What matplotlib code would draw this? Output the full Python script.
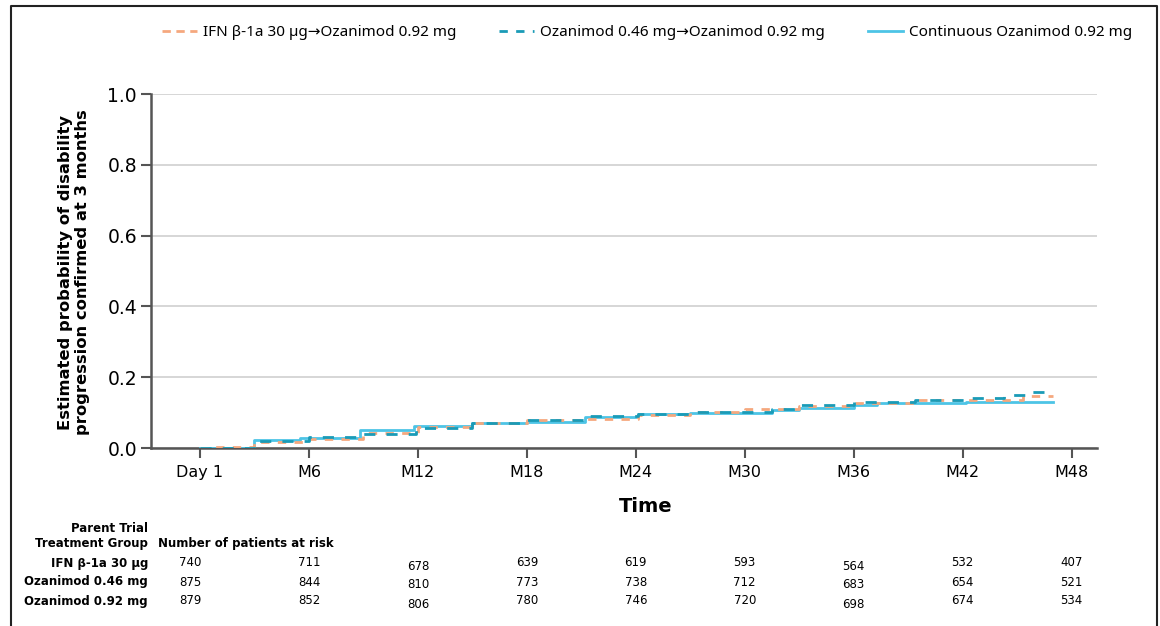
import numpy as np
import pandas as pd
import matplotlib
matplotlib.use("Agg")
import matplotlib.pyplot as plt
import matplotlib.transforms as mtransforms
from matplotlib.lines import Line2D

plt.rcParams['font.family'] = ['DejaVu Sans']

# step curves (months since day 1, cumulative probability)
ifn_t = [0, 0.8, 3, 6, 9, 12, 15, 18, 21.2, 24.1, 27, 30, 33, 36, 39.4, 45.3, 47]
ifn_v = [0, 0.004, 0.018, 0.025, 0.042, 0.058, 0.071, 0.080, 0.082, 0.094, 0.102,
         0.109, 0.119, 0.127, 0.136, 0.148, 0.148]

oz46_t = [0, 3, 6, 9, 11.9, 15, 18, 21.2, 24.1, 27, 31.5, 33, 36, 39.4, 42.2, 44.3, 45.6, 47]
oz46_v = [0, 0.020, 0.032, 0.040, 0.056, 0.070, 0.080, 0.089, 0.095, 0.102, 0.109,
          0.121, 0.131, 0.137, 0.140, 0.150, 0.159, 0.159]

oz92_t = [0, 3, 5.5, 8.8, 11.8, 15, 18, 21.2, 24.1, 27, 31.5, 33, 36, 37.3, 42.2, 47]
oz92_v = [0, 0.022, 0.029, 0.050, 0.062, 0.070, 0.074, 0.088, 0.095, 0.100, 0.107,
          0.114, 0.122, 0.126, 0.129, 0.129]

tick_months = [0, 6, 12, 18, 24, 30, 36, 42, 48]
tick_labels = ['Day 1', 'M6', 'M12', 'M18', 'M24', 'M30', 'M36', 'M42', 'M48']

group_names = ['IFN β-1a 30 µg', 'Ozanimod 0.46 mg', 'Ozanimod 0.92 mg']
risk_ifn = [740, 711, 678, 639, 619, 593, 564, 532, 407]
risk_oz46 = [875, 844, 810, 773, 738, 712, 683, 654, 521]
risk_oz92 = [879, 852, 806, 780, 746, 720, 698, 674, 534]

legend_labels = ['IFN β-1a 30 µg→Ozanimod 0.92 mg',
                 'Ozanimod 0.46 mg→Ozanimod 0.92 mg',
                 'Continuous Ozanimod 0.92 mg']

c_ifn = '#F5A87E'
c_46 = '#1A9BB7'
c_92 = '#4DC4E6'
narrow = ['Noto Sans', 'DejaVu Sans']

W, H = 1160, 626
fig = plt.figure(figsize=(W / 100, H / 100), dpi=100)
ax = fig.add_axes([151 / W, 1 - 448 / H, (1097 - 151) / W, (448 - 94) / H])

ax.step(oz92_t, oz92_v, where='post', color=c_92, lw=2.0, zorder=3)
ax.step(ifn_t, ifn_v, where='post', color=c_ifn, lw=2.0, dashes=(3, 3), zorder=4)
ax.step(oz46_t, oz46_v, where='post', color=c_46, lw=2.0, dashes=(4, 4), zorder=5)

ax.set_xlim(-2.7, 49.4)
ax.set_ylim(0, 1.0)
ax.set_xticks(tick_months)
ax.set_xticklabels(tick_labels)
ax.set_yticks(np.arange(0, 1.01, 0.2))
ax.set_yticklabels(['%.1f' % v for v in np.arange(0, 1.01, 0.2)])
ax.tick_params(axis='x', length=7, width=1.5, color='#555555', labelsize=11.5, pad=5)
ax.tick_params(axis='y', length=7, width=1.5, color='#555555', labelsize=13.5, pad=3)
ax.yaxis.grid(True, color='#cfcfcf', lw=1.2)
ax.set_axisbelow(True)
for s in ['top', 'right']:
    ax.spines[s].set_visible(False)
for s in ['left', 'bottom']:
    ax.spines[s].set_color('#555555')
    ax.spines[s].set_linewidth(1.8)

fig.text(74 / W, 1 - 272 / H,
         'Estimated probability of disability\nprogression confirmed at 3 months',
         rotation=90, ha='center', va='center', fontsize=11.8, fontweight='bold',
         linespacing=1.1)
fig.text(646 / W, 1 - 507 / H, 'Time', ha='center', va='center', fontsize=14,
         fontweight='bold')

# legend
handles = [Line2D([], [], color=c_ifn, lw=2, dashes=(3, 2)),
           Line2D([], [], color=c_46, lw=2, dashes=(3, 3)),
           Line2D([], [], color=c_92, lw=2)]
fig.legend(handles, legend_labels, loc='center right', ncol=3, frameon=False,
           bbox_to_anchor=(1146 / W, 1 - 33 / H), handlelength=2.3,
           handletextpad=0.4, columnspacing=2.8,
           prop={'family': narrow, 'size': 11})

# number at risk table
trans = mtransforms.blended_transform_factory(ax.transData, fig.transFigure)
risk_x = [-0.55] + tick_months[1:]
col_shift = [0, 0, 3, 0, 0, 0, 3, 0, 0]
row_y = [563, 582, 601]
fig.text(148 / W, 1 - 529 / H, 'Parent Trial', ha='right', va='center',
         fontsize=8.5, fontweight='bold')
fig.text(148 / W, 1 - 543 / H, 'Treatment Group', ha='right', va='center',
         fontsize=8.5, fontweight='bold')
fig.text(158 / W, 1 - 543 / H, 'Number of patients at risk', ha='left', va='center',
         fontsize=8.5, fontweight='bold')
for name, counts, yy in zip(group_names, [risk_ifn, risk_oz46, risk_oz92], row_y):
    fig.text(148 / W, 1 - yy / H, name, ha='right', va='center', fontsize=8.5,
             fontweight='bold')
    for xm, n, sh in zip(risk_x, counts, col_shift):
        fig.text(xm, 1 - (yy + sh) / H, str(n), ha='center', va='center',
                 fontsize=8.5, transform=trans)

# outer frame
frame = Line2D([11 / W, 11 / W, 1157 / W, 1157 / W], [0, 1 - 6 / H, 1 - 6 / H, 0],
               transform=fig.transFigure, color='#222222', lw=1.5)
fig.add_artist(frame)

fig.savefig('out.png', dpi=100)
